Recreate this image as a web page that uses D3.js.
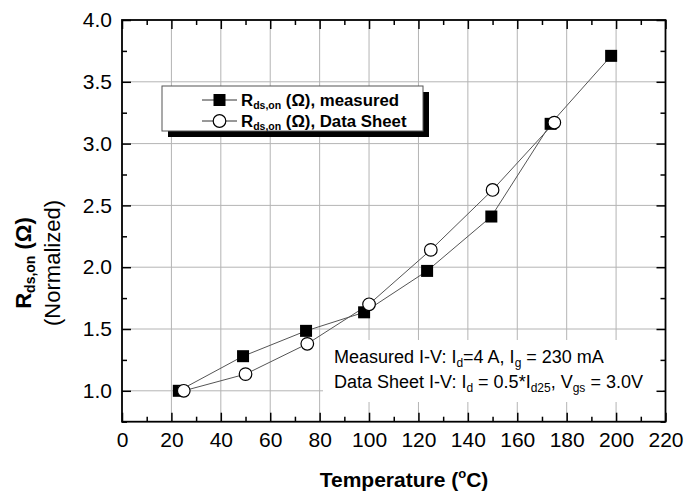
<!DOCTYPE html>
<html>
<head>
<meta charset="utf-8">
<script src="https://cdn.jsdelivr.net/npm/d3@7/dist/d3.min.js"></script>
<style>
  html, body { margin: 0; padding: 0; background: #fff; }
  svg { display: block; font-family: "Liberation Sans", Arial, sans-serif; }
</style>
</head>
<body>
<svg id="chart" width="686" height="493"></svg>
<script>
// ---- data ----
const measuredTemp = [23, 49, 74.5, 98, 123.5, 149.5, 173.5, 198];
const measuredRds  = [1.00, 1.28, 1.485, 1.635, 1.97, 2.41, 3.16, 3.71];
const sheetTemp    = [25, 50, 75, 100, 125, 150, 175];
const sheetRds     = [1.00, 1.135, 1.38, 1.70, 2.14, 2.625, 3.17];
const xMajorTicks  = [0, 20, 40, 60, 80, 100, 120, 140, 160, 180, 200, 220];
const xMinorTicks  = [10, 30, 50, 70, 90, 110, 130, 150, 170, 190, 210];
const yMajorTicks  = [1.0, 1.5, 2.0, 2.5, 3.0, 3.5, 4.0];
const yMinorTicks  = [0.75, 1.25, 1.75, 2.25, 2.75, 3.25, 3.75];
const xGrid        = [20, 40, 60, 80, 100, 120, 140, 160, 180, 200];
const yGrid        = [1.0, 1.5, 2.0, 2.5, 3.0, 3.5];

const svg = d3.select("#chart");
const L = 122, R = 665.5, T = 20, B = 421.7;
const x = d3.scaleLinear().domain([0, 220]).range([L, R]);
const y = d3.scaleLinear().domain([0.75, 4.0]).range([B, T]);

// grid
const g = svg.append("g");
g.selectAll(".gx").data(xGrid).join("line")
  .attr("x1", d => x(d)).attr("x2", d => x(d)).attr("y1", T).attr("y2", B)
  .attr("stroke", "#b4b4b4").attr("stroke-width", 1);
g.selectAll(".gy").data(yGrid).join("line")
  .attr("x1", L).attr("x2", R).attr("y1", d => y(d)).attr("y2", d => y(d))
  .attr("stroke", "#b4b4b4").attr("stroke-width", 1);

// white box behind annotation
svg.append("rect").attr("x", 323).attr("y", 340).attr("width", 340).attr("height", 62).attr("fill", "#fff");

// axes
function styleAxis(sel) {
  sel.select(".domain").remove();
  sel.selectAll(".tick line").attr("stroke", "#000").attr("stroke-width", 1.5);
  sel.selectAll(".tick text").attr("font-size", 21).attr("fill", "#000")
     .attr("font-family", "Liberation Sans, Arial, sans-serif");
}
const fmtY = d3.format(".1f");
svg.append("g").attr("transform", `translate(0,${B})`)
  .call(d3.axisBottom(x).tickValues(xMajorTicks).tickSize(-9).tickSizeOuter(0).tickPadding(10).tickFormat(d3.format("d")))
  .call(styleAxis);
svg.append("g").attr("transform", `translate(0,${B})`)
  .call(d3.axisBottom(x).tickValues(xMinorTicks).tickSize(-5).tickSizeOuter(0).tickFormat(""))
  .call(styleAxis);
svg.append("g").attr("transform", `translate(0,${T})`)
  .call(d3.axisTop(x).tickValues(xMajorTicks).tickSize(-9).tickSizeOuter(0).tickFormat(""))
  .call(styleAxis);
svg.append("g").attr("transform", `translate(0,${T})`)
  .call(d3.axisTop(x).tickValues(xMinorTicks).tickSize(-5).tickSizeOuter(0).tickFormat(""))
  .call(styleAxis);
svg.append("g").attr("transform", `translate(${L},0)`)
  .call(d3.axisLeft(y).tickValues(yMajorTicks).tickSize(-9).tickSizeOuter(0).tickPadding(10).tickFormat(fmtY))
  .call(styleAxis);
svg.append("g").attr("transform", `translate(${L},0)`)
  .call(d3.axisLeft(y).tickValues(yMinorTicks).tickSize(-5).tickSizeOuter(0).tickFormat(""))
  .call(styleAxis);
svg.append("g").attr("transform", `translate(${R},0)`)
  .call(d3.axisRight(y).tickValues(yMajorTicks).tickSize(-9).tickSizeOuter(0).tickFormat(""))
  .call(styleAxis);
svg.append("g").attr("transform", `translate(${R},0)`)
  .call(d3.axisRight(y).tickValues(yMinorTicks).tickSize(-5).tickSizeOuter(0).tickFormat(""))
  .call(styleAxis);

// frame
svg.append("rect").attr("x", L).attr("y", T).attr("width", R - L).attr("height", B - T)
  .attr("fill", "none").attr("stroke", "#000").attr("stroke-width", 1.8);

// series
const measured = measuredTemp.map((t, i) => ({t, v: measuredRds[i]}));
const sheet = sheetTemp.map((t, i) => ({t, v: sheetRds[i]}));
const line = d3.line().x(d => x(d.t)).y(d => y(d.v));
svg.append("path").datum(measured).attr("d", line).attr("fill", "none").attr("stroke", "#555").attr("stroke-width", 1);
svg.append("path").datum(sheet).attr("d", line).attr("fill", "none").attr("stroke", "#555").attr("stroke-width", 1);
svg.selectAll(".sq").data(measured).join("rect")
  .attr("x", d => x(d.t) - 6).attr("y", d => y(d.v) - 6).attr("width", 12).attr("height", 12).attr("fill", "#000");
svg.selectAll(".ci").data(sheet).join("circle")
  .attr("cx", d => x(d.t)).attr("cy", d => y(d.v)).attr("r", 6.3)
  .attr("fill", "#fff").attr("stroke", "#000").attr("stroke-width", 1.2);

// legend
const lg = svg.append("g");
lg.append("rect").attr("x", 168).attr("y", 92).attr("width", 261).attr("height", 45).attr("fill", "#000");
lg.append("rect").attr("x", 162).attr("y", 86).attr("width", 261).attr("height", 45)
  .attr("fill", "#fff").attr("stroke", "#555").attr("stroke-width", 1);
function legendText(yb, label) {
  const t = lg.append("text").attr("x", 241).attr("y", yb).attr("font-size", 16.8).attr("font-weight", "bold");
  t.append("tspan").text("R");
  t.append("tspan").attr("font-size", 10.5).attr("dy", 3).text("ds,on");
  t.append("tspan").attr("dy", -3).text(" (Ω), " + label);
}
lg.append("line").attr("x1", 202).attr("x2", 237).attr("y1", 100).attr("y2", 100).attr("stroke", "#333");
lg.append("rect").attr("x", 213.5).attr("y", 94).attr("width", 12).attr("height", 12).attr("fill", "#000");
legendText(106, "measured");
lg.append("line").attr("x1", 202).attr("x2", 237).attr("y1", 121).attr("y2", 121).attr("stroke", "#333");
lg.append("circle").attr("cx", 219.5).attr("cy", 121).attr("r", 6.3).attr("fill", "#fff").attr("stroke", "#000").attr("stroke-width", 1.2);
legendText(127, "Data Sheet");

// annotation
function sub(t, s) { t.append("tspan").attr("font-size", 12).attr("dy", 4).text(s); }
const a1 = svg.append("text").attr("x", 334).attr("y", 363).attr("font-size", 18);
a1.append("tspan").text("Measured I-V: I");
sub(a1, "d");
a1.append("tspan").attr("dy", -4).text("=4 A, I");
sub(a1, "g");
a1.append("tspan").attr("dy", -4).text(" = 230 mA");
const a2 = svg.append("text").attr("x", 334).attr("y", 388).attr("font-size", 18);
a2.append("tspan").text("Data Sheet I-V: I");
sub(a2, "d");
a2.append("tspan").attr("dy", -4).text(" = 0.5*I");
sub(a2, "d25");
a2.append("tspan").attr("dy", -4).text(", V");
sub(a2, "gs");
a2.append("tspan").attr("dy", -4).text(" = 3.0V");

// axis titles
const xt = svg.append("text").attr("x", 404).attr("y", 487).attr("text-anchor", "middle")
  .attr("font-size", 21).attr("font-weight", "bold");
xt.append("tspan").text("Temperature (");
xt.append("tspan").attr("font-size", 13).attr("dy", -9).text("o");
xt.append("tspan").attr("dy", 9).text("C)");

const yt = svg.append("text").attr("transform", "translate(31,263) rotate(-90)").attr("text-anchor", "middle")
  .attr("font-size", 22).attr("font-weight", "bold");
yt.append("tspan").text("R");
yt.append("tspan").attr("font-size", 14).attr("dy", 4).text("ds,on");
yt.append("tspan").attr("dy", -4).text(" (Ω)");
svg.append("text").attr("transform", "translate(60,263) rotate(-90)").attr("text-anchor", "middle")
  .attr("font-size", 22).text("(Normalized)");
</script>
</body>
</html>
